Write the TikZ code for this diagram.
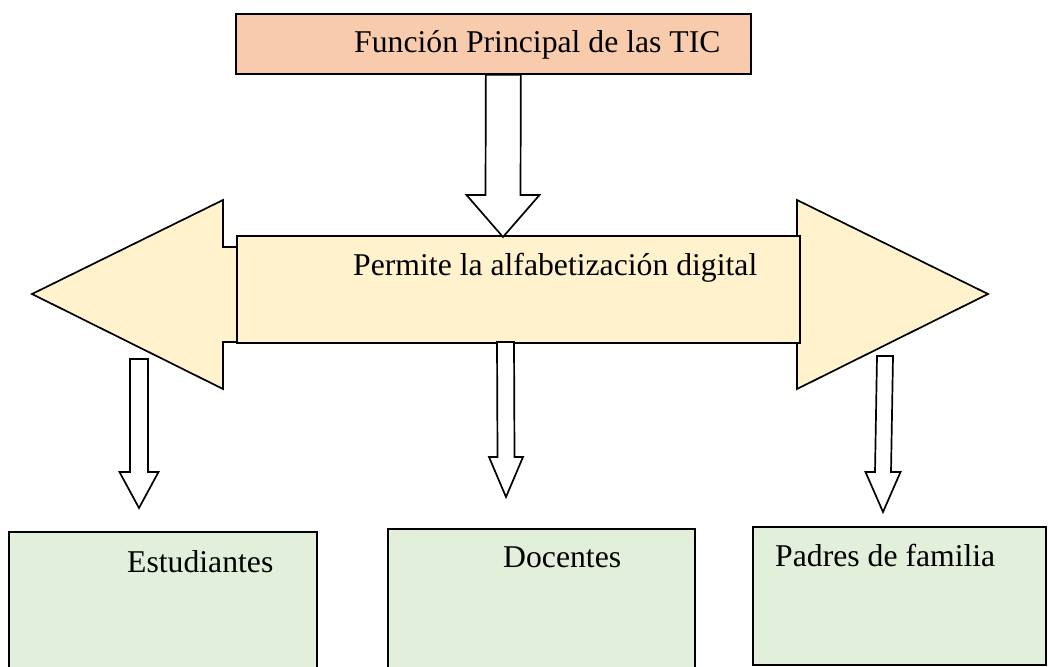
\documentclass[tikz,border=0pt]{standalone}
\usepackage{fontspec}
\setmainfont{Liberation Serif}
\usetikzlibrary{calc}
\definecolor{topfill}{HTML}{F8CBAD}
\definecolor{midfill}{HTML}{FFF2CC}
\definecolor{lowfill}{HTML}{E2EFDA}
\tikzset{
  box/.style={draw=black, line width=1.7pt, inner sep=0pt, anchor=north west},
  label text/.style={anchor=base west, inner sep=0pt, font=\fontsize{31.7}{38}\selectfont},
  hollow/.style={draw=black, line width=1.7pt, fill=white, line join=miter}
}
\newcommand{\blockdown}[5]{\filldraw[hollow] ($#1+(-#3,0)$) -- ($#2+(-#3,-#5)$) -- ($#2+(-#4,-#5)$) -- #2 -- ($#2+(#4,-#5)$) -- ($#2+(#3,-#5)$) -- ($#1+(#3,0)$) -- cycle;}

\begin{document}
\begin{tikzpicture}[x=1pt, y=-1pt]
\useasboundingbox (0,0) rectangle (1048,666);
\begin{scope}
\node[box, fill=topfill, minimum width=515pt, minimum height=60pt] (fun) at (235,13) {};
\node[label text] (funtext) at (354,53) {Función Principal de las TIC};

\filldraw[hollow, fill=midfill] (32,294) -- (223,200) -- (223,247) -- (797,247) -- (797,200)
  -- (988,294) -- (797,389) -- (797,342) -- (223,342) -- (223,389) -- cycle;
\node[box, fill=midfill, minimum width=563pt, minimum height=107pt] (perm) at (236,235) {};
\node[label text] (permtext) at (353,275) {Permite la alfabetización digital};

\coordinate (topstart) at ($(fun.south)+(10,0)$);
\coordinate (toptip) at (503,237);
\blockdown{(topstart)}{(toptip)}{17.5}{36.5}{42}

\coordinate (midstart) at (505.5,342);
\coordinate (midtip) at (506,497);
\blockdown{(midstart)}{(midtip)}{8.5}{17}{40}
\coordinate (leftstart) at (139,359);
\coordinate (lefttip) at (139,508);
\blockdown{(leftstart)}{(lefttip)}{9}{19.5}{36}
\coordinate (rightstart) at (885,356);
\coordinate (righttip) at (883,512);
\blockdown{(rightstart)}{(righttip)}{8}{17.5}{40}

\node[box, fill=lowfill, minimum width=308pt, minimum height=137pt] (est) at (8,531) {};
\node[label text] (esttext) at (127,572) {Estudiantes};
\node[box, fill=lowfill, minimum width=307pt, minimum height=140pt] (doc) at (387,528) {};
\node[label text] (doctext) at (503,567) {Docentes};
\node[box, fill=lowfill, minimum width=293pt, minimum height=138pt] (pad) at (752,526) {};
\node[label text] (padtext) at (775,566) {Padres de familia};
\end{scope}
\end{tikzpicture}
\end{document}
